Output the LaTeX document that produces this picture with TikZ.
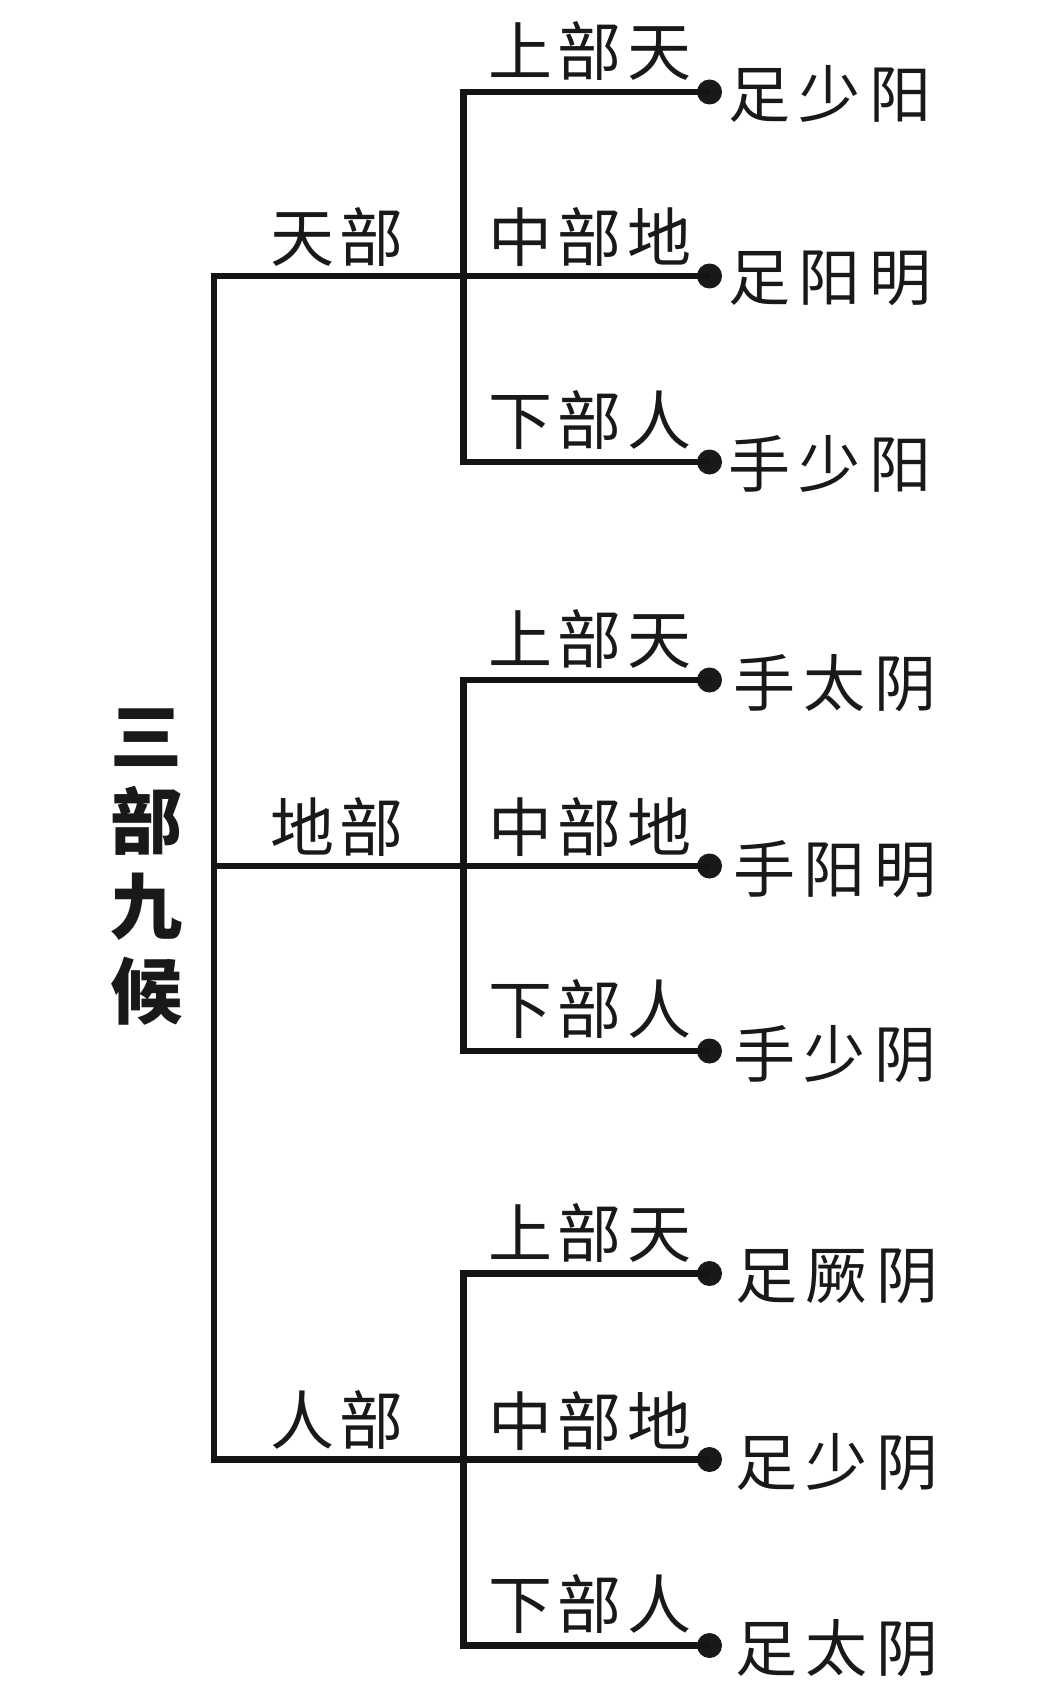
\documentclass[tikz,border=0pt]{standalone}
\usepackage{fontspec}
\newfontfamily\cjk[LetterSpace=9]{Noto Sans CJK SC}
\newfontfamily\cjkwide[LetterSpace=14]{Noto Sans CJK SC}
\newfontfamily\cjktitle{Noto Sans CJK SC}
\tikzset{
  branch/.style={line width=6.2pt, black!92},
  dotnode/.style={circle, fill=black!90, inner sep=0pt, minimum size=25pt},
  partlabel/.style={anchor=south west, inner sep=0pt, font=\cjk\fontsize{64}{64}\selectfont, text=black!90},
  sublabel/.style={anchor=south west, inner sep=0pt, font=\cjk\fontsize{64}{64}\selectfont, text=black!90},
  pulselabel/.style={anchor=west, inner sep=0pt, font=\cjkwide\fontsize{62}{62}\selectfont, text=black!90},
  titlelabel/.style={align=center, inner sep=0pt, font=\cjktitle\bfseries\fontsize{72}{85}\selectfont, text=black!90}
}
\begin{document}
\begin{tikzpicture}[x=1pt,y=-1pt]
\path[use as bounding box, fill=white] (0,0) rectangle (1040,1696);

% junction coordinates
\coordinate (m1) at (214,276);
\coordinate (m2) at (214,866);
\coordinate (m3) at (214,1459.5);
\coordinate (v1) at (463.5,276);
\coordinate (v2) at (463.5,866);
\coordinate (v3) at (463.5,1459.5);
\coordinate (t1) at (463.5,92);
\coordinate (b1) at (463.5,462);
\coordinate (t2) at (463.5,680);
\coordinate (b2) at (463.5,1051);
\coordinate (t3) at (463.5,1273.5);
\coordinate (b3) at (463.5,1645.5);

% end dots
\node[dotnode] (d11) at (709.5,92) {};
\node[dotnode] (d12) at (709.5,276) {};
\node[dotnode] (d13) at (709.5,462) {};
\node[dotnode] (d21) at (709.5,680) {};
\node[dotnode] (d22) at (709.5,866) {};
\node[dotnode] (d23) at (709.5,1051) {};
\node[dotnode] (d31) at (709.5,1273.5) {};
\node[dotnode] (d32) at (709.5,1459.5) {};
\node[dotnode] (d33) at (709.5,1645.5) {};

% main trunk
\draw[branch] (v1) -- (m1) -- (m3) -- (v3);
\draw[branch] (m2) -- (v2);

% sub branches
\draw[branch] (d11.center) -- (t1) -- (b1) -- (d13.center);
\draw[branch] (v1) -- (d12.center);
\draw[branch] (d21.center) -- (t2) -- (b2) -- (d23.center);
\draw[branch] (v2) -- (d22.center);
\draw[branch] (d31.center) -- (t3) -- (b3) -- (d33.center);
\draw[branch] (v3) -- (d32.center);

% title
\node[titlelabel] (title) at (146,867) {三\\部\\九\\候};

% part labels
\node[partlabel] (p1) at (270,267) {天部};
\node[partlabel] (p2) at (270,857) {地部};
\node[partlabel] (p3) at (270,1450) {人部};

% sub labels
\node[sublabel] (s11) at (488,81) {上部天};
\node[sublabel] (s12) at (488,267) {中部地};
\node[sublabel] (s13) at (488,450) {下部人};
\node[sublabel] (s21) at (488,669) {上部天};
\node[sublabel] (s22) at (488,857) {中部地};
\node[sublabel] (s23) at (488,1039) {下部人};
\node[sublabel] (s31) at (488,1262.5) {上部天};
\node[sublabel] (s32) at (488,1450.5) {中部地};
\node[sublabel] (s33) at (488,1633.5) {下部人};

% pulse labels
\node[pulselabel] (r11) at (728,94) {足少阳};
\node[pulselabel] (r12) at (728,278) {足阳明};
\node[pulselabel] (r13) at (728,464) {手少阳};
\node[pulselabel] (r21) at (733,683) {手太阴};
\node[pulselabel] (r22) at (733,869) {手阳明};
\node[pulselabel] (r23) at (733,1054) {手少阴};
\node[pulselabel] (r31) at (735,1276.5) {足厥阴};
\node[pulselabel] (r32) at (735,1462.5) {足少阴};
\node[pulselabel] (r33) at (735,1648.5) {足太阴};
\end{tikzpicture}
\end{document}
